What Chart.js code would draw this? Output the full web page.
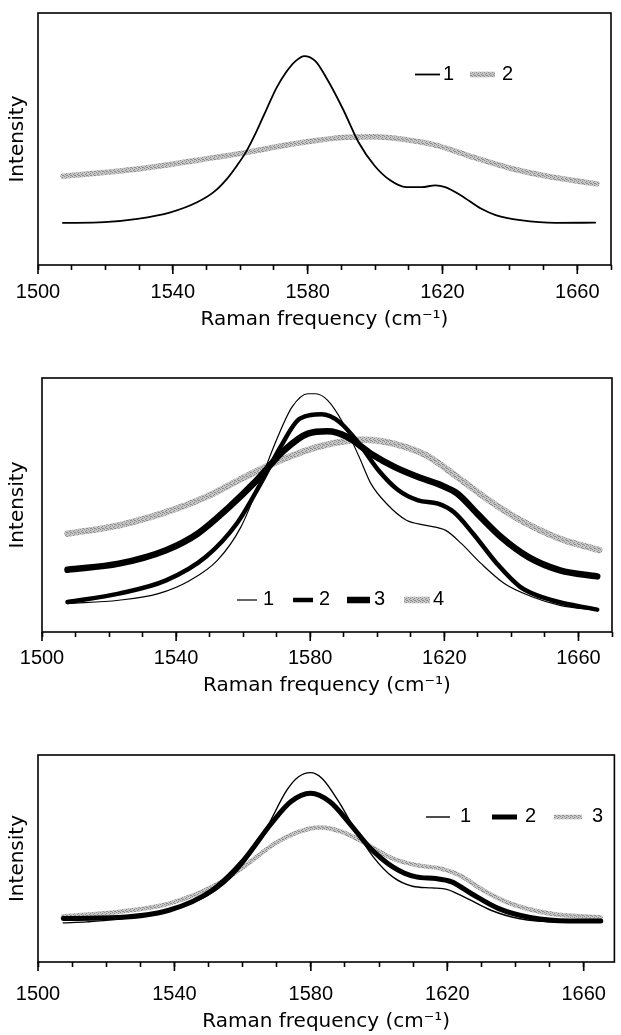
<!DOCTYPE html>
<html><head><meta charset="utf-8">
<script src="https://cdn.jsdelivr.net/npm/chart.js@4/dist/chart.umd.min.js"></script>
<style>
html,body{margin:0;padding:0;background:#fff;}
#wrap{position:relative;width:621px;height:1035px;background:#fff;}
.pane{position:absolute;left:0;width:621px;}
</style></head><body>
<div id="wrap">
<div class="pane" style="top:0px;height:332px"><canvas id="c1"></canvas></div>
<div class="pane" style="top:365px;height:333px"><canvas id="c2"></canvas></div>
<div class="pane" style="top:740px;height:294px"><canvas id="c3"></canvas></div>
</div>
<script>
// ---------- data (Raman frequency in cm-1, intensity in arbitrary units) ----------
const xTitle = 'Raman frequency (cm\u207B\u00B9)';
const yTitle = 'Intensity';
const tickLabels = [1500, 1540, 1580, 1620, 1660];

// Panel 1
const p1Labels = ['1', '2'];
const p1_s1_x = [1507.4,1519.7,1529.5,1539.3,1547.2,1552.1,1556.0,1559.0,1561.9,1564.9,1567.8,1570.8,1573.5,1576.4,1579.0,1582.3,1585.8,1590.5,1595.1,1599.8,1604.5,1609.2,1613.8,1617.9,1620.8,1625.5,1631.4,1636.0,1643.1,1653.6,1665.3];
const p1_s1_y = [16.7,17.0,18.3,20.9,24.9,28.9,34.1,39.4,45.3,53.2,61.8,70.4,76.3,80.9,82.9,80.9,73.7,61.8,48.7,39.5,33.6,30.9,30.9,31.6,30.9,27.6,22.4,19.7,17.8,16.7,16.8];
const p1_s2_x = [1507.4,1529.5,1549.2,1562.9,1573.7,1591.6,1599.8,1609.2,1618.5,1629.0,1640.7,1652.4,1665.8];
const p1_s2_y = [35.2,38.1,42.0,44.9,47.6,50.7,50.9,49.7,47.4,42.8,38.2,34.9,32.2];

// Panel 2
const p2Labels = ['1', '2', '3', '4'];
const p2_s1_x = [1507.6,1522.9,1534.7,1544.1,1552.3,1559.3,1565.2,1569.9,1574.6,1579.3,1581.6,1585.2,1589.9,1594.6,1598.1,1602.8,1608.7,1614.5,1620.4,1625.1,1631.0,1638.0,1646.3,1654.5,1665.6];
const p2_s1_y = [11.2,12.5,15.1,20.3,28.2,41.3,59.7,75.5,88.6,93.8,93.8,91.2,82.0,68.9,58.4,50.5,44.0,42.0,40.0,34.8,26.9,19.0,13.8,10.5,8.5];
const p2_s2_x = [1507.6,1522.9,1537.0,1548.8,1558.1,1565.2,1571.1,1576.9,1583.4,1588.7,1594.6,1600.4,1606.3,1612.2,1618.1,1622.8,1628.6,1635.7,1642.7,1652.1,1665.6];
const p2_s2_y = [11.8,15.1,20.3,29.5,42.7,58.4,72.8,84.0,85.7,82.7,74.1,63.6,55.8,51.8,50.5,47.2,38.7,26.9,17.7,12.5,8.8];
const p2_s3_x = [1507.6,1522.9,1537.0,1546.4,1555.8,1564.0,1572.2,1579.3,1585.2,1591.0,1598.1,1605.1,1612.2,1619.2,1623.9,1629.8,1636.9,1645.1,1654.5,1665.6];
const p2_s3_y = [24.5,26.9,32.2,38.7,49.2,59.7,71.5,78.1,79.0,76.8,70.2,65.0,61.0,57.7,54.5,46.6,37.4,29.5,24.3,21.9];
const p2_s4_x = [1507.6,1522.9,1537.0,1548.8,1560.5,1572.2,1584.0,1595.7,1605.1,1614.5,1623.9,1633.3,1642.7,1654.5,1666.2];
const p2_s4_y = [38.7,42.0,47.2,53.1,61.0,68.2,73.5,75.7,74.1,69.6,61.0,51.8,44.0,36.7,32.2];

// Panel 3
const p3Labels = ['1', '2', '3'];
const p3_s1_x = [1507.4,1514.3,1529.2,1540.7,1552.2,1560.3,1567.2,1573.0,1576.4,1579.9,1583.3,1587.9,1592.5,1598.3,1604.0,1609.8,1615.5,1620.1,1625.9,1632.8,1640.9,1652.4,1665.0];
const p3_s1_y = [18.9,19.4,21.8,25.8,34.7,47.6,65.3,83.1,89.5,91.5,88.7,78.2,65.3,50.8,41.1,36.6,35.8,35.0,30.6,25.0,21.0,19.4,19.4];
const p3_s2_x = [1507.4,1523.5,1538.4,1551.1,1560.3,1568.4,1574.1,1579.9,1585.6,1591.4,1597.1,1604.0,1610.9,1616.7,1621.3,1627.0,1635.1,1644.3,1655.8,1665.0];
const p3_s2_y = [21.0,21.5,25.0,34.7,49.2,66.9,77.4,81.5,77.4,66.9,55.6,46.0,41.1,40.3,38.7,33.1,25.8,21.5,19.8,19.8];
const p3_s3_x = [1507.4,1523.5,1538.4,1551.1,1560.3,1569.5,1576.4,1582.7,1589.1,1596.0,1604.0,1610.9,1617.8,1623.6,1630.5,1638.6,1650.1,1665.0];
const p3_s3_y = [22.1,24.2,28.2,36.3,46.0,57.3,62.9,65.0,62.9,57.3,50.0,46.8,45.2,41.9,34.7,28.2,23.4,21.5];

// ---------- helpers ----------
function pts(xs, ys) { return xs.map((x, i) => ({ x: x, y: ys[i] })); }

function greyPattern() {
  const c = document.createElement('canvas'); c.width = 4; c.height = 4;
  const g = c.getContext('2d');
  g.fillStyle = '#c6c6c6'; g.fillRect(0, 0, 4, 4);
  g.fillStyle = '#8e8e8e';
  [[0,0],[2,1],[1,2],[3,3],[2,3]].forEach(p => g.fillRect(p[0], p[1], 1, 1));
  return g.createPattern(c, 'repeat');
}
const GREY = greyPattern();

function ds(label, xs, ys, color, width) {
  return { label: label, data: pts(xs, ys), borderColor: color, borderWidth: width,
           pointRadius: 0, fill: false, cubicInterpolationMode: 'monotone', borderCapStyle: 'round', borderJoinStyle: 'round' };
}

const framePlugin = {
  id: 'frameLegend',
  afterDatasetsDraw(chart, args, opts) {
    const ctx = chart.ctx, a = chart.chartArea, x = chart.scales.x;
    ctx.save();
    ctx.strokeStyle = '#000'; ctx.lineWidth = 1.6;
    ctx.strokeRect(a.left, a.top, a.right - a.left, a.bottom - a.top);
    ctx.beginPath();
    tickLabels.forEach(v => {
      const px = x.getPixelForValue(v);
      ctx.moveTo(px, a.bottom); ctx.lineTo(px, a.bottom + 9);
    });
    ctx.stroke();
    // legend
    const L = opts.legend;
    if (L) {
      ctx.font = '20px "Liberation Sans", Arial, sans-serif';
      ctx.textAlign = 'left'; ctx.textBaseline = 'alphabetic'; ctx.fillStyle = '#000';
      L.items.forEach((it, i) => {
        const d = chart.data.datasets[i];
        ctx.beginPath();
        ctx.strokeStyle = d.borderColor; ctx.lineWidth = d.borderWidth; ctx.lineCap = 'butt';
        ctx.moveTo(it[0], L.y); ctx.lineTo(it[1], L.y); ctx.stroke();
        ctx.fillText(d.label, it[2], L.y + 5);
      });
    }
    ctx.restore();
  }
};

function makeChart(id, datasets, cfg) {
  return new Chart(document.getElementById(id), {
    type: 'line',
    data: { datasets: datasets },
    plugins: [framePlugin],
    options: {
      responsive: true, maintainAspectRatio: false, animation: false, devicePixelRatio: 1,
      layout: { padding: { top: cfg.top, right: cfg.right, left: 0, bottom: 0 } },
      plugins: { legend: { display: false }, tooltip: { enabled: false }, frameLegend: { legend: cfg.legend } },
      scales: {
        x: {
          type: 'linear', min: 1500, max: cfg.xMax,
          afterFit: s => { s.height = cfg.xHeight; },
          border: { display: false },
          grid: { drawOnChartArea: false, drawTicks: true, tickLength: 5, tickWidth: 1.6, tickColor: '#000' },
          ticks: {
            stepSize: 10, includeBounds: false, autoSkip: false, maxRotation: 0, padding: cfg.tickPad,
            color: '#000', font: { family: '"Liberation Sans", Arial, sans-serif', size: 20 },
            callback: v => (tickLabels.indexOf(v) >= 0 ? String(v) : '')
          },
          title: { display: true, text: xTitle, color: '#000', padding: { top: 0, bottom: 0 },
                   font: { family: '"DejaVu Sans", sans-serif', size: 20 } }
        },
        y: {
          type: 'linear', min: 0, max: 100,
          afterFit: s => { s.width = cfg.left; },
          border: { display: false }, grid: { display: false },
          ticks: { display: false },
          title: { display: true, text: yTitle, color: '#000', padding: { top: 6, bottom: 0 },
                   font: { family: '"DejaVu Sans", sans-serif', size: 20 } }
        }
      }
    }
  });
}

makeChart('c1', [
  ds(p1Labels[0], p1_s1_x, p1_s1_y, '#000', 1.8),
  ds(p1Labels[1], p1_s2_x, p1_s2_y, GREY, 5.5)
], { top: 13, right: 7, left: 38, xHeight: 67, xMax: 1670, tickPad: 10,
     legend: { y: 74.5, items: [[415, 440, 443], [470, 495, 502]] } });

makeChart('c2', [
  ds(p2Labels[0], p2_s1_x, p2_s1_y, '#000', 1.2),
  ds(p2Labels[1], p2_s2_x, p2_s2_y, '#000', 4.5),
  ds(p2Labels[2], p2_s3_x, p2_s3_y, '#000', 6.5),
  ds(p2Labels[3], p2_s4_x, p2_s4_y, GREY, 6.5)
], { top: 13, right: 5, left: 42, xHeight: 66, xMax: 1670, tickPad: 9,
     legend: { y: 235, items: [[237, 257, 263], [293, 313, 319], [347, 370, 374], [404, 430, 433]] } });

makeChart('c3', [
  ds(p3Labels[0], p3_s1_x, p3_s1_y, '#000', 1.4),
  ds(p3Labels[1], p3_s2_x, p3_s2_y, '#000', 5),
  ds(p3Labels[2], p3_s3_x, p3_s3_y, GREY, 4.5)
], { top: 15, right: 1, left: 38, xHeight: 72, xMax: 1669, tickPad: 15,
     legend: { y: 77, items: [[426, 450, 460], [492, 517, 525], [554, 582, 592]] } });
</script>
</body></html>
